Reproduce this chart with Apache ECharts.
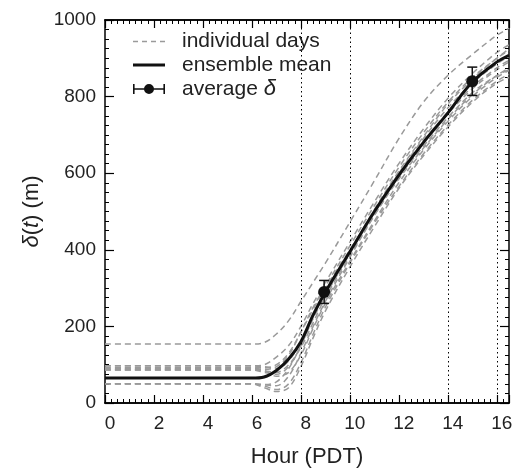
<!DOCTYPE html>
<html>
<head>
<meta charset="utf-8">
<script src="https://cdn.jsdelivr.net/npm/echarts@6/dist/echarts.min.js"></script>
<style>html,body{margin:0;padding:0;background:#fff}#c{width:516px;height:473px}</style>
</head>
<body>
<div id="c"></div>
<script>
// Data
const hours = [0, 6, 6.5, 7, 7.5, 8, 8.5, 9, 10, 11, 12, 13, 14, 15, 16, 16.5];
const day1  = [154,154,158,180,215,265,315,365,472,580,690,785,855,910,960,978];
const day2  = [97,97,100,120,150,200,260,315,420,525,625,715,795,860,915,935];
const day3  = [91,91,88,95,125,185,250,305,410,515,615,705,785,850,900,925];
const day4  = [86,86,80,75,95,150,225,285,395,500,600,690,770,835,885,905];
const day5  = [50,50,48,45,70,130,200,265,380,490,590,680,760,825,875,895];
const day6  = [50,50,45,35,50,105,180,250,365,470,565,650,725,790,840,858];
const day7  = [50,50,48,55,90,150,220,280,390,495,590,670,745,810,855,870];
const day8  = [88,88,85,70,80,125,195,260,370,475,575,660,735,800,850,868];
const day9  = [93,93,92,100,130,185,245,300,400,500,595,680,755,820,870,890];
const day10 = [97,97,95,90,110,160,230,290,395,505,605,695,780,845,900,920];
const day11 = [50,50,40,30,40,95,170,240,355,460,560,645,720,785,835,850];
const day12 = [86,86,84,80,100,145,210,275,385,490,585,665,740,805,855,875];
const ensembleMean = [65,65,68,85,115,160,230,290,395,500,595,680,757,838,890,908];
const avgHours = [8.95, 15.0];
const avgDelta = [290, 840];
const avgErr = [30, 37];
const refLines = [8, 10, 14, 16];
const xTicks = [0, 2, 4, 6, 8, 10, 12, 14, 16];

const days = [day1, day2, day3, day4, day5, day6, day7, day8, day9, day10, day11, day12];
const pair = arr => hours.map((h, i) => [h, arr[i]]);

const FONT = '"Liberation Sans", Arial, sans-serif';
const TXT = '#222';

const series = [];
days.forEach(d => {
  series.push({
    name: 'individual days', type: 'line', data: pair(d), smooth: 0.35,
    symbol: 'none', xAxisIndex: 0, yAxisIndex: 0, z: 2,
    lineStyle: { color: '#9a9a9a', width: 1.5, type: [6, 4] },
    itemStyle: { color: '#9a9a9a' }
  });
});
series.push({
  name: 'ensemble mean', type: 'line', data: pair(ensembleMean), smooth: 0.35,
  symbol: 'none', z: 4,
  lineStyle: { color: '#111', width: 3 }, itemStyle: { color: '#111' },
  markLine: {
    silent: true, symbol: ['none', 'none'], label: { show: false },
    lineStyle: { color: '#000', width: 1, type: [1.5, 3] },
    data: refLines.map(v => ({ xAxis: v }))
  }
});
series.push({
  name: 'average δ', type: 'custom', z: 6,
  data: avgHours.map((h, i) => [h, avgDelta[i], avgDelta[i] - avgErr[i], avgDelta[i] + avgErr[i]]),
  itemStyle: { color: '#111' },
  renderItem: (params, api) => {
    const c = api.coord([api.value(0), api.value(1)]);
    const lo = api.coord([api.value(0), api.value(2)]);
    const hi = api.coord([api.value(0), api.value(3)]);
    const st = { stroke: '#111', lineWidth: 1.5 };
    return { type: 'group', children: [
      { type: 'line', shape: { x1: c[0], y1: lo[1], x2: c[0], y2: hi[1] }, style: st },
      { type: 'line', shape: { x1: c[0] - 5, y1: lo[1], x2: c[0] + 5, y2: lo[1] }, style: st },
      { type: 'line', shape: { x1: c[0] - 5, y1: hi[1], x2: c[0] + 5, y2: hi[1] }, style: st },
      { type: 'circle', shape: { cx: c[0], cy: c[1], r: 6 }, style: { fill: '#111' } }
    ]};
  }
});

const AX_LINE = { show: true, onZero: false, lineStyle: { color: '#000', width: 1.5 } };
const majorTick = { show: true, inside: true, length: 8, lineStyle: { color: '#000', width: 1.2 } };
const minorTickX = { show: true, inside: true, length: 4, lineStyle: { color: '#000', width: 1 } };
const baseX = {
  type: 'value', min: 0, max: 16.5, gridIndex: 0,
  splitLine: { show: false }, axisLine: AX_LINE
};

const option = {
  animation: false,
  backgroundColor: '#fff',
  grid: { left: 105, right: 7, top: 20, bottom: 69, show: false },
  legend: {
    orient: 'vertical', left: 133, top: 31, padding: 0, itemWidth: 32, itemHeight: 14, itemGap: 2.5,
    selectedMode: false, symbolKeepAspect: true,
    textStyle: { fontFamily: FONT, fontSize: 21, color: TXT, lineHeight: 20, padding: [0, 0, 0, 12],
      rich: { i: { fontFamily: FONT, fontSize: 22, fontStyle: 'italic', color: TXT } } },
    formatter: n => n === 'average δ' ? 'average {i|δ}' : n,
    data: [
      { name: 'individual days', icon: 'path://M0,0h5v1.4h-5z M9,0h5v1.4h-5z M18,0h5v1.4h-5z M27,0h5v1.4h-5z', itemStyle: { color: '#9a9a9a', borderWidth: 0 } },
      { name: 'ensemble mean', icon: 'path://M0,0h32v3h-32z', itemStyle: { color: '#111', borderWidth: 0 } },
      { name: 'average δ', icon: 'path://M0,2h1.6v10h-1.6z M0,6.2h32v1.6h-32z M30.4,2h1.6v10h-1.6z M21,7a5,5 0 1,1 -10,0a5,5 0 1,1 10,0z', itemStyle: { color: '#111', borderWidth: 0 } }
    ]
  },
  xAxis: [
    Object.assign({}, baseX, {
      position: 'bottom', interval: 2,
      name: 'Hour (PDT)', nameLocation: 'middle', nameGap: 43,
      nameTextStyle: { fontFamily: FONT, fontSize: 22, color: TXT },
      axisTick: majorTick,
      axisLabel: { fontFamily: FONT, fontSize: 19, color: TXT, margin: 11, padding: [0, 0, 0, 10],
        formatter: v => xTicks.includes(v) ? String(v) : '' }
    }),
    Object.assign({}, baseX, {
      position: 'bottom', interval: 0.25,
      axisTick: minorTickX,
      axisLabel: { show: false }
    }),
    Object.assign({}, baseX, {
      position: 'top', interval: 2,
      axisTick: majorTick,
      axisLabel: { show: false }
    }),
    Object.assign({}, baseX, {
      position: 'top', interval: 0.25,
      axisTick: minorTickX,
      axisLabel: { show: false }
    })
  ],
  yAxis: [
    {
      type: 'value', min: 0, max: 1000, interval: 200, position: 'left',
      name: '{i|δ}({i|t}) (m)', nameLocation: 'middle', nameGap: 60,
      nameTextStyle: { fontFamily: FONT, fontSize: 22, color: TXT,
        rich: { i: { fontFamily: FONT, fontSize: 22, fontStyle: 'italic', color: TXT } } },
      splitLine: { show: false }, axisLine: AX_LINE,
      axisTick: { show: true, inside: true, length: 9, lineStyle: { color: '#000', width: 1.2 } },
      minorTick: { show: true, splitNumber: 8, length: 4, lineStyle: { color: '#000', width: 1 } },
      axisLabel: { fontFamily: FONT, fontSize: 19, color: TXT, margin: 9, formatter: v => String(v) }
    },
    {
      type: 'value', min: 0, max: 1000, interval: 200, position: 'right',
      splitLine: { show: false }, axisLine: AX_LINE,
      axisTick: { show: true, inside: true, length: 9, lineStyle: { color: '#000', width: 1.2 } },
      minorTick: { show: true, splitNumber: 8, length: 4, lineStyle: { color: '#000', width: 1 } },
      axisLabel: { show: false }
    }
  ],
  series: series
};

const chart = echarts.init(document.getElementById('c'), null, { renderer: 'canvas' });
chart.setOption(option);
</script>
</body>
</html>
